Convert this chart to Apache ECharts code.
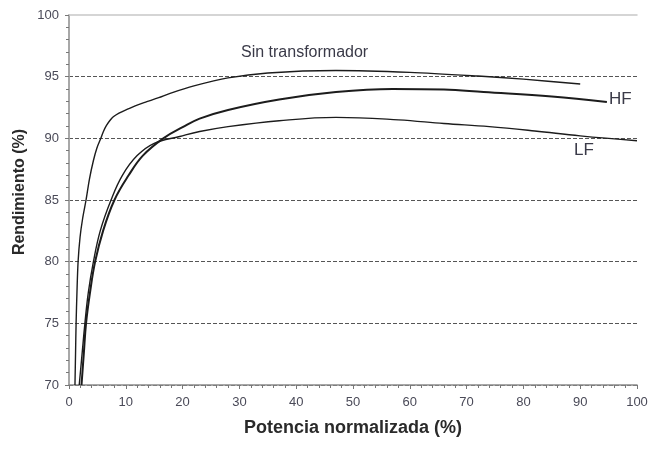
<!DOCTYPE html>
<html>
<head>
<meta charset="utf-8">
<script src="https://cdn.jsdelivr.net/npm/echarts@6/dist/echarts.min.js"></script>
<style>
  html, body { margin: 0; padding: 0; background: #fff; }
  #chart { width: 652px; height: 454px; }
</style>
</head>
<body>
<div id="chart"></div>
<script>
// Efficiency curves [normalized power %, efficiency %]
const sinTransformador = [
  [1.05, 70], [1.15, 72.5], [1.25, 75], [1.4, 77.5], [1.6, 80], [1.95, 82], [2.4, 83.5],
  [3.0, 85], [3.6, 86.7], [4.3, 88.2], [4.9, 89.2], [5.6, 90], [6.1, 90.6], [6.6, 91.05],
  [7.2, 91.45], [7.8, 91.75], [8.8, 92.05], [10.2, 92.35], [12, 92.7], [13.7, 92.97],
  [15.8, 93.3], [17.8, 93.65], [22, 94.25], [28, 94.9], [35, 95.3], [47, 95.5], [60, 95.35],
  [72, 95.05], [80, 94.8], [90, 94.4]
];
const hf = [
  [2.2, 70], [2.6, 72.5], [3.0, 75], [3.7, 77.5], [4.6, 80], [6.0, 82.5], [8.0, 85],
  [10.5, 87], [13, 88.6], [16.6, 90], [20, 90.9], [23, 91.6], [28, 92.3], [37, 93.15],
  [47, 93.75], [57, 94.0], [66, 93.95], [73, 93.75], [85, 93.4], [94.7, 92.95]
];
const lf = [
  [1.8, 70], [2.3, 72.5], [2.8, 75], [3.4, 77.5], [4.3, 80], [5.5, 82.5], [7.4, 85],
  [9.4, 87], [12, 88.6], [15, 89.6], [19.5, 90.15], [23, 90.55], [28, 90.95], [37, 91.43],
  [47, 91.7], [58, 91.5], [66, 91.2], [74, 90.95], [82, 90.6], [90, 90.2], [100, 89.8]
];

const xTicks = { min: 0, max: 100, interval: 10 };
const yTicks = { min: 70, max: 100, interval: 5 };

const chart = echarts.init(document.getElementById('chart'), null, { renderer: 'canvas' });

const family = 'Liberation Sans, Arial, sans-serif';
const tickFont = { fontFamily: family, fontSize: 13, color: '#4a4a58' };
const lineCol = '#1c1c1c';

chart.setOption({
  animation: false,
  backgroundColor: '#fff',
  grid: { left: 69, right: 15, top: 15, bottom: 69, containLabel: false },
  xAxis: [
    {
      type: 'value', min: xTicks.min, max: xTicks.max, interval: xTicks.interval,
      axisLine: { show: true, lineStyle: { color: '#8a8a8a', width: 1.5 } },
      axisTick: { show: true, length: 4, lineStyle: { color: '#777' } },
      minorTick: { show: true, splitNumber: 5, length: 3, lineStyle: { color: '#777' } },
      axisLabel: Object.assign({ margin: 11 }, tickFont),
      splitLine: { show: false },
      name: 'Potencia normalizada (%)',
      nameLocation: 'middle', nameGap: 34,
      nameTextStyle: { fontFamily: family, fontSize: 18, fontWeight: 'bold', color: '#2a2a2a' }
    },
    {
      type: 'value', position: 'top', min: xTicks.min, max: xTicks.max,
      axisLine: { show: true, lineStyle: { color: '#c8c8c8', width: 1.5 } },
      axisTick: { show: false }, axisLabel: { show: false }, splitLine: { show: false }
    }
  ],
  yAxis: [
    {
      type: 'value', min: yTicks.min, max: yTicks.max, interval: yTicks.interval,
      axisLine: { show: true, lineStyle: { color: '#8a8a8a', width: 1.5 } },
      axisTick: { show: true, length: 4, lineStyle: { color: '#777' } },
      minorTick: { show: true, splitNumber: 5, length: 3, lineStyle: { color: '#777' } },
      axisLabel: Object.assign({ margin: 10 }, tickFont),
      splitLine: {
        show: true,
        lineStyle: {
          type: [4, 2], width: 1,
          color: ['#555', '#555', '#555', '#555', '#555', '#555', 'rgba(0,0,0,0)']
        }
      }
    },
    {
      type: 'value', position: 'right', min: yTicks.min, max: yTicks.max,
      axisLine: { show: true, lineStyle: { color: '#a8a8a8', width: 1.5 } },
      axisTick: { show: false }, axisLabel: { show: false }, splitLine: { show: false }
    }
  ],
  series: [
    {
      name: 'Sin transformador', type: 'line', data: sinTransformador, smooth: 0.3,
      showSymbol: false, lineStyle: { color: lineCol, width: 1.4 }
    },
    {
      name: 'HF', type: 'line', data: hf, smooth: 0.4,
      showSymbol: false, lineStyle: { color: lineCol, width: 2 }
    },
    {
      name: 'LF', type: 'line', data: lf, smooth: 0.4,
      showSymbol: false, lineStyle: { color: lineCol, width: 1.4 }
    }
  ],
  graphic: [
    {
      type: 'text', x: 20, y: 192, rotation: Math.PI / 2,
      style: { text: 'Rendimiento (%)', fontFamily: family, fontSize: 16, fontWeight: 'bold', fill: '#2a2a2a', align: 'center', verticalAlign: 'middle' }
    },
    { type: 'text', left: 241, top: 45, style: { text: 'Sin transformador', fontFamily: family, fontSize: 16, fill: '#3a3a48' } },
    { type: 'text', left: 609, top: 91, style: { text: 'HF', fontFamily: family, fontSize: 17, fill: '#3a3a48' } },
    { type: 'text', left: 574, top: 142, style: { text: 'LF', fontFamily: family, fontSize: 17, fill: '#3a3a48' } }
  ]
});
</script>
</body>
</html>
